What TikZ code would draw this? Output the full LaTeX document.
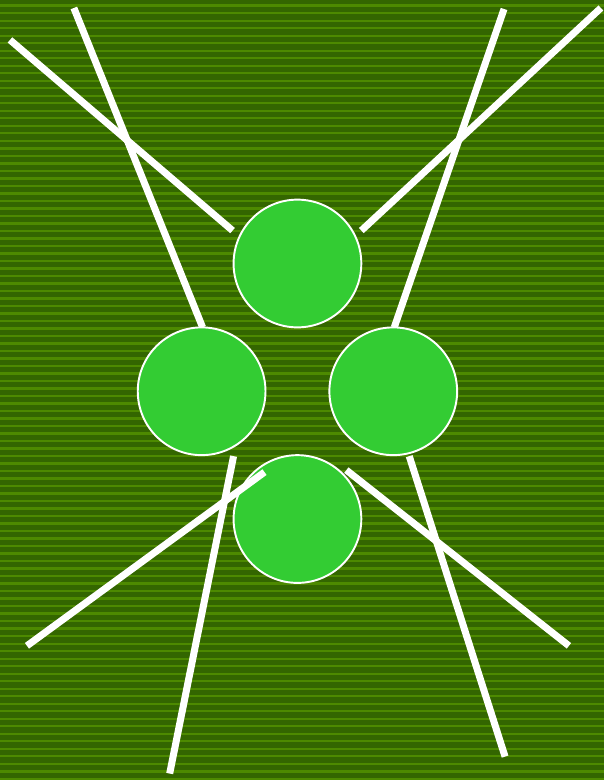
\documentclass[tikz,border=0pt]{standalone}
\usepackage{tikz}
\usetikzlibrary{positioning}
\definecolor{fielddark}{HTML}{336600}
\definecolor{fieldline}{HTML}{4D8A00}
\definecolor{blobgreen}{HTML}{33CC33}

\begin{document}
\begin{tikzpicture}[
    x=0.02cm, y=-0.02cm,
    blob/.style={circle, draw=white, line width=1.1pt, fill=blobgreen, minimum size=2.56cm, inner sep=0pt},
    leg/.style={draw=white, line width=4pt, line cap=butt}
]
% background
\fill[fielddark] (0,0) rectangle (605,780);
\foreach \k in {0,...,103}
    \fill[fieldline] (0,{5.7+7.52*\k-1.2}) rectangle (605,{5.7+7.52*\k+1.2});
\useasboundingbox (0,0) rectangle (605,780);

% leg end points
\coordinate (a1) at (10,40);   \coordinate (a2) at (233,231);
\coordinate (b1) at (74,8);    \coordinate (b2) at (203,328);
\coordinate (c1) at (505,9);   \coordinate (c2) at (395,328);
\coordinate (d1) at (602,8);   \coordinate (d2) at (362,231);
\coordinate (e1) at (265,473); \coordinate (e2) at (27,647);
\coordinate (f1) at (234,457); \coordinate (f2) at (170,775);
\coordinate (g1) at (347,471); \coordinate (g2) at (570,647);
\coordinate (h1) at (410,457); \coordinate (h2) at (506,758);

\draw[leg] (a1) -- (a2);
\draw[leg] (b1) -- (b2);
\draw[leg] (c1) -- (c2);
\draw[leg] (d1) -- (d2);
\draw[leg] (f1) -- (f2);
\draw[leg] (h1) -- (h2);

\node[blob] (top) at (298,264) {};
\node[blob] (left) at (202,392) {};
\node[blob] (right) at (394,392) {};
\node[blob] (bottom) at (298,520) {};

\draw[leg] (e1) -- (e2);
\draw[leg] (g1) -- (g2);
\end{tikzpicture}
\end{document}
